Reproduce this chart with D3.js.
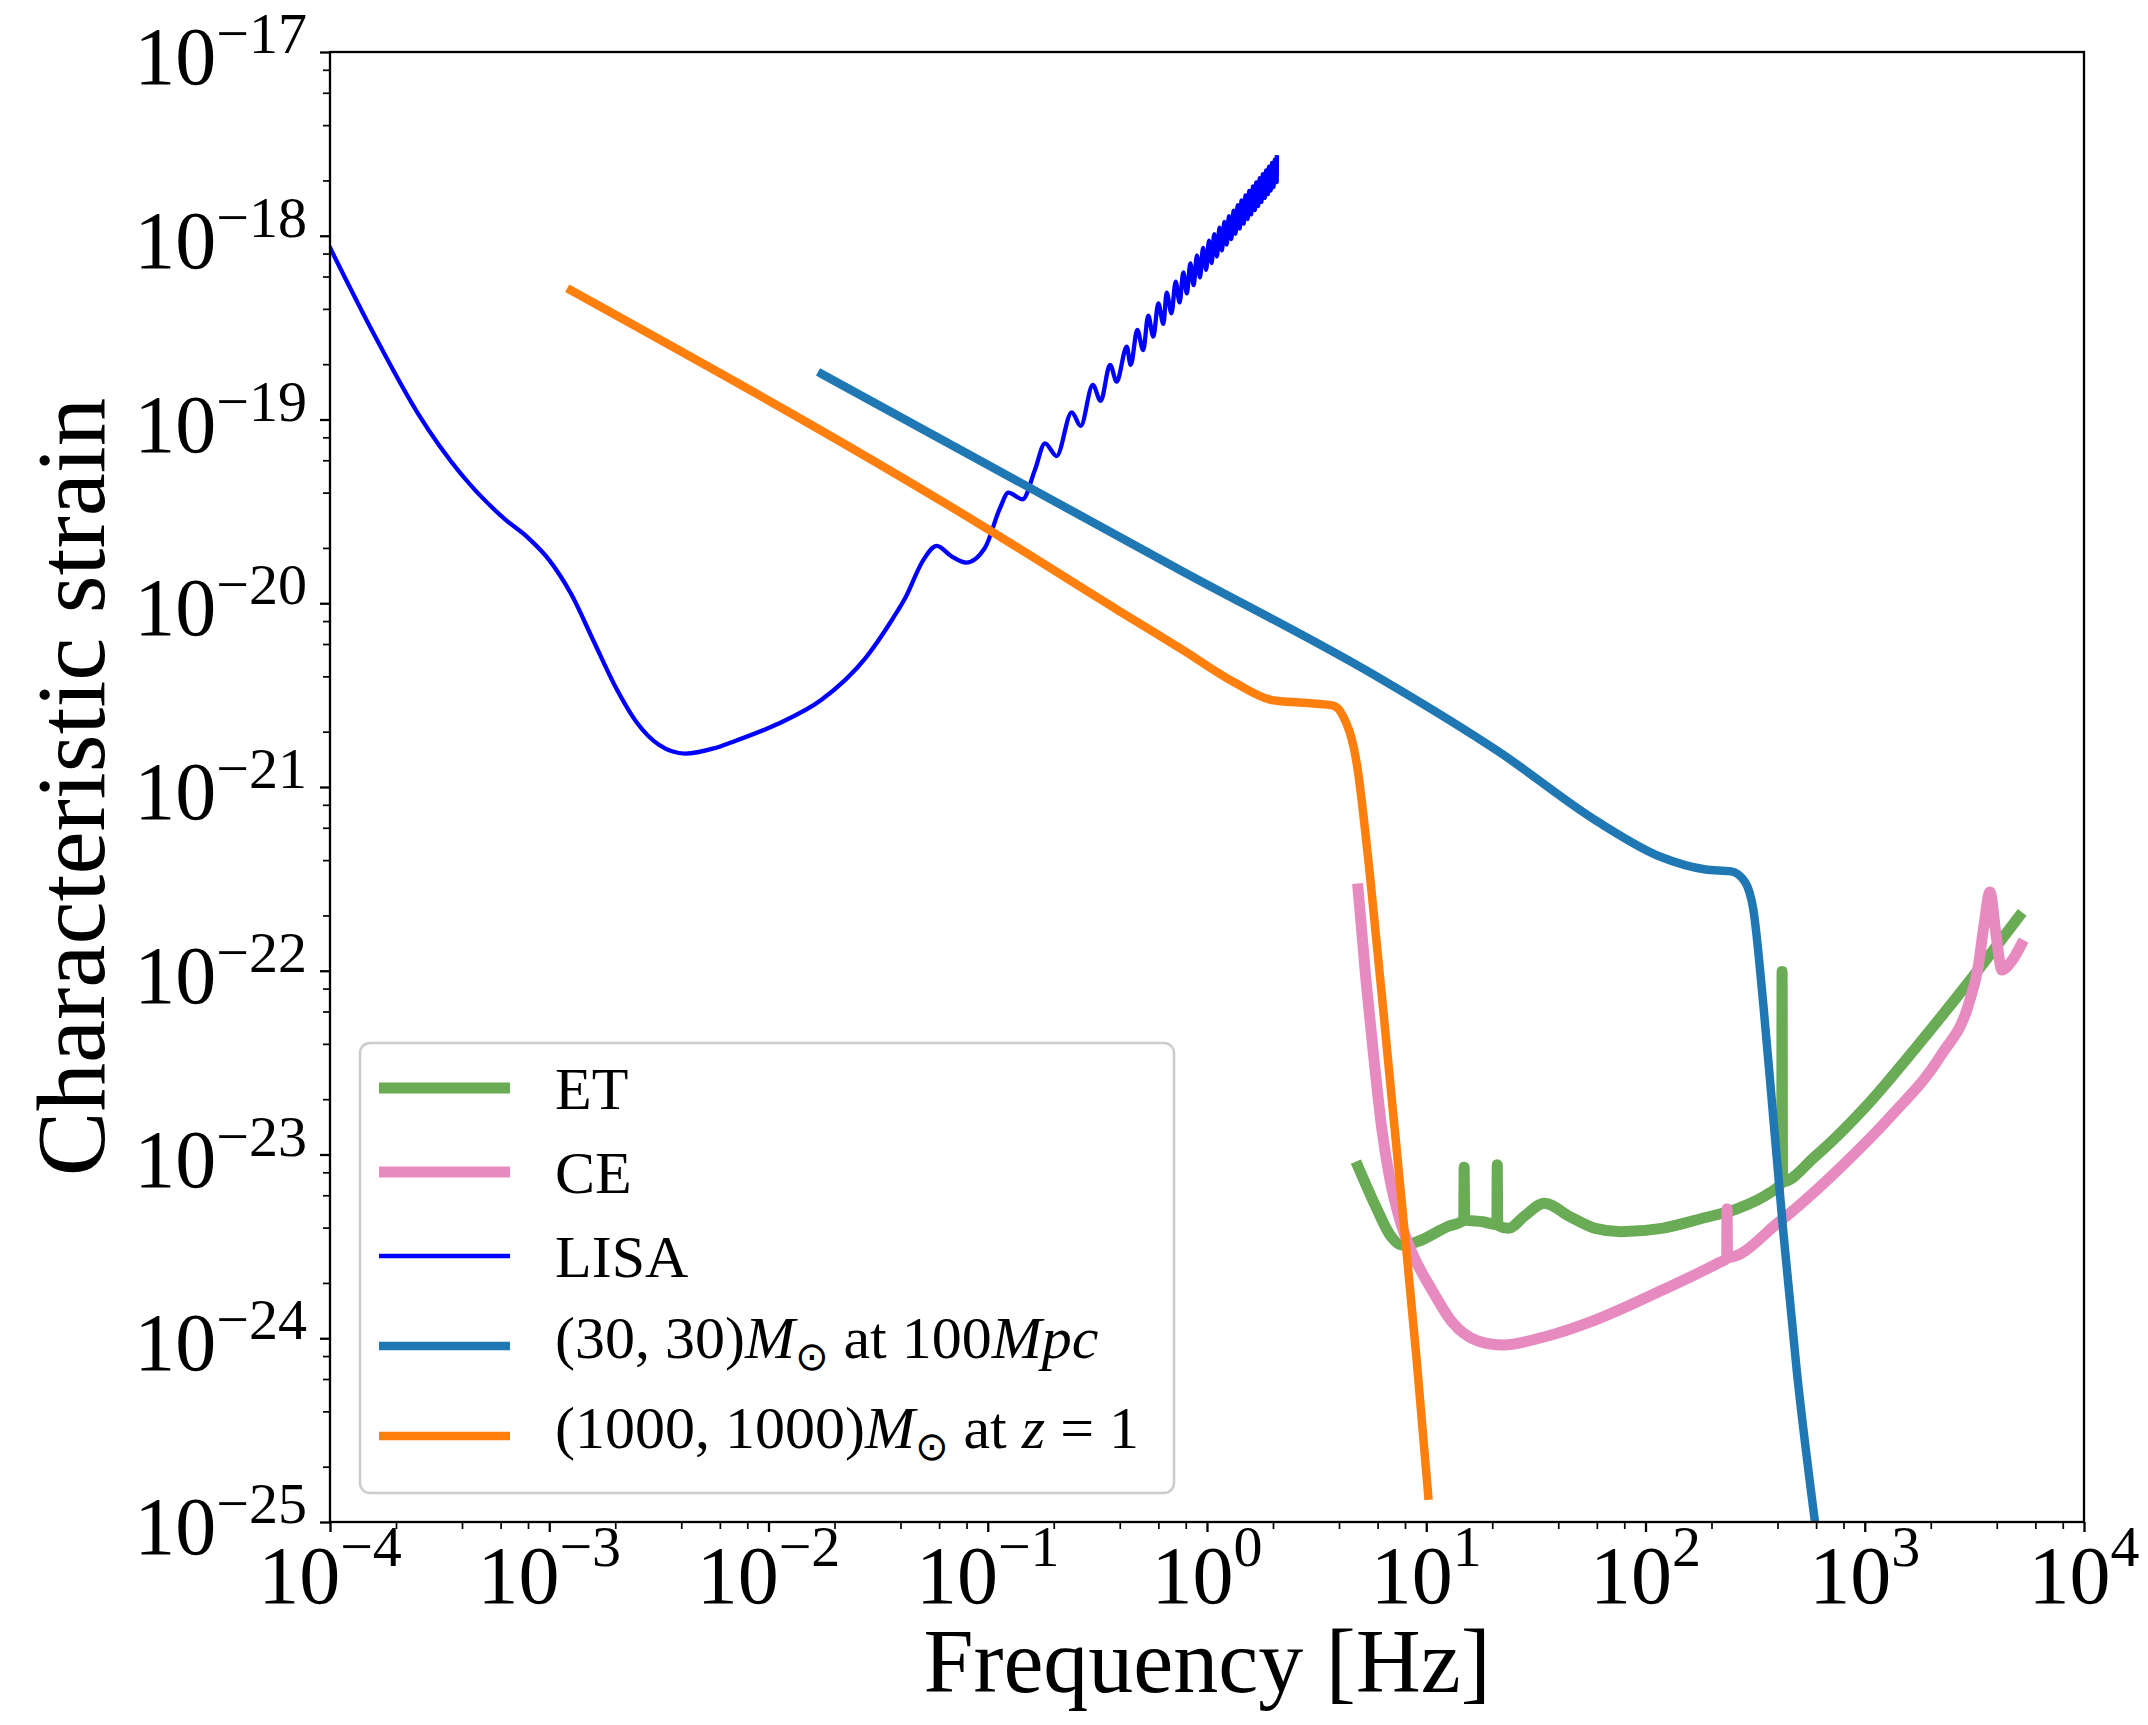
<!DOCTYPE html>
<html>
<head>
<meta charset="utf-8">
<script src="https://cdn.jsdelivr.net/npm/d3@7"></script>
<style>
body { margin: 0; background: #fff; }
text { font-family: "Liberation Serif", "DejaVu Serif", serif; fill: #000; }
</style>
</head>
<body>
<div id="chart"></div>
<script>
const w = 2148;
const h = 1725;

const margin = {
    left: 330,
    right: 64,
    top: 52,
    bottom: 203
};

const width = w - margin.left - margin.right;
const height = h - margin.top - margin.bottom;

// all curves are [log10 frequency (Hz), log10 characteristic strain]
const etCurve = [
    [0.689, -23.066], [0.770, -23.284], [0.840, -23.447], [0.887, -23.492], [0.957, -23.475],
    [1.096, -23.393], [1.171, -23.358], [1.173, -23.069], [1.175, -23.356], [1.259, -23.366],
    [1.322, -23.382], [1.324, -23.056], [1.326, -23.386], [1.376, -23.402], [1.445, -23.338],
    [1.539, -23.265], [1.655, -23.338], [1.771, -23.402], [1.887, -23.420], [2.074, -23.402],
    [2.260, -23.347], [2.423, -23.293], [2.563, -23.211], [2.621, -23.155], [2.623, -22.004],
    [2.625, -23.148], [2.772, -23.012], [3.004, -22.740], [3.237, -22.413], [3.470, -22.068],
    [3.703, -21.706]
];

const ceCurve = [
    [0.689, -21.555], [0.725, -22.050], [0.762, -22.486], [0.798, -22.867], [0.835, -23.139],
    [0.880, -23.357], [0.940, -23.547], [1.026, -23.737], [1.118, -23.912], [1.236, -24.015],
    [1.350, -24.037], [1.537, -23.993], [1.770, -23.901], [2.048, -23.754], [2.331, -23.591],
    [2.370, -23.566], [2.372, -23.297], [2.374, -23.561], [2.609, -23.367], [2.887, -23.073],
    [3.120, -22.790], [3.352, -22.453], [3.471, -22.192], [3.517, -21.980], [3.544, -21.751],
    [3.571, -21.571], [3.599, -21.806], [3.626, -21.996], [3.667, -21.952], [3.713, -21.860]
];

const lisaCurve = [
    [-4.000, -18.065], [-3.800, -18.535], [-3.600, -18.965], [-3.400, -19.300], [-3.200, -19.545],
    [-3.100, -19.640], [-3.000, -19.765], [-2.900, -19.950], [-2.800, -20.200], [-2.700, -20.450],
    [-2.600, -20.650], [-2.500, -20.770], [-2.380, -20.818], [-2.250, -20.790], [-2.167, -20.756],
    [-1.964, -20.660], [-1.760, -20.527], [-1.557, -20.297], [-1.435, -20.087],
    [-1.377, -19.973], [-1.294, -19.765], [-1.233, -19.688], [-1.165, -19.745], [-1.099, -19.779],
    [-1.013, -19.699], [-0.944, -19.482], [-0.906, -19.398], [-0.841, -19.434], [-0.785, -19.275],
    [-0.739, -19.130], [-0.686, -19.199], [-0.617, -18.961], [-0.576, -19.035], [-0.521, -18.812],
    [-0.485, -18.898], [-0.442, -18.703], [-0.412, -18.794], [-0.366, -18.604], [-0.348, -18.703],
    [-0.318, -18.513], [-0.291, -18.622], [-0.268, -18.435], [-0.245, -18.549], [-0.222, -18.368],
    [-0.199, -18.480], [-0.184, -18.310], [-0.162, -18.422], [-0.143, -18.250], [-0.125, -18.363],
    [-0.108, -18.199], [-0.092, -18.314], [-0.076, -18.151], [-0.061, -18.269], [-0.046, -18.107],
    [-0.032, -18.226], [-0.018, -18.066], [-0.004, -18.186], [0.009, -18.027], [0.021, -18.149],
    [0.033, -17.991], [0.045, -18.113], [0.057, -17.956], [0.068, -18.080], [0.079, -17.924],
    [0.090, -18.048], [0.100, -17.893], [0.111, -18.018], [0.121, -17.863], [0.130, -17.989],
    [0.140, -17.834], [0.149, -17.961], [0.158, -17.807], [0.167, -17.934], [0.176, -17.781],
    [0.185, -17.909], [0.193, -17.756], [0.201, -17.884], [0.210, -17.732], [0.218, -17.860],
    [0.225, -17.709], [0.233, -17.838], [0.241, -17.687], [0.248, -17.816], [0.255, -17.665],
    [0.263, -17.794], [0.270, -17.644], [0.277, -17.774], [0.283, -17.624], [0.290, -17.754],
    [0.297, -17.604], [0.303, -17.735], [0.310, -17.585], [0.318, -17.708], [0.319, -17.573]
];

const bbh30Curve = [
    [-1.757, -18.752], [-0.111, -19.827], [0.762, -20.390], [1.343, -20.818], [1.780, -21.187],
    [2.071, -21.381], [2.274, -21.449], [2.390, -21.459], [2.454, -21.517], [2.492, -21.669],
    [2.537, -22.179], [2.583, -22.803], [2.629, -23.428], [2.690, -24.178], [2.773, -25.000]
];

const bbh1000Curve = [
    [-2.901, -18.297], [-1.043, -19.565], [-0.402, -20.041], [-0.111, -20.254], [0.122, -20.429],
    [0.296, -20.527], [0.442, -20.542], [0.572, -20.556], [0.616, -20.604], [0.683, -20.872],
    [0.744, -21.490], [0.820, -22.415], [0.895, -23.343], [0.956, -24.115], [1.009, -24.856]
];

const xTickExps = [-4, -3, -2, -1, 0, 1, 2, 3, 4];
const yTickExps = [-25, -24, -23, -22, -21, -20, -19, -18, -17];
const minorSubs = [2, 4, 6, 8];

const series = [
    {name: "ET", data: etCurve, color: "#6aab56", lw: 11},
    {name: "CE", data: ceCurve, color: "#e78abf", lw: 11},
    {name: "LISA", data: lisaCurve, color: "#0000ff", lw: 4.3},
    {name: "bbh30", data: bbh30Curve, color: "#1f77b4", lw: 8.5},
    {name: "bbh1000", data: bbh1000Curve, color: "#ff7f0e", lw: 8.5}
];

const svg = d3.select("#chart")
    .append("svg")
    .attr("width", w)
    .attr("height", h);

svg.append("rect").attr("width", w).attr("height", h).attr("fill", "#fff");

const g = svg.append("g")
    .attr("transform", "translate(" + margin.left + "," + margin.top + ")");

const x = d3.scaleLog().domain([1e-4, 1e4]).range([0, width]);
const y = d3.scaleLog().domain([1e-25, 1e-17]).range([height, 0]);

g.append("clipPath")
    .attr("id", "clip")
    .append("rect")
    .attr("width", width)
    .attr("height", height);

const line = d3.line()
    .x(d => x(Math.pow(10, d[0])))
    .y(d => y(Math.pow(10, d[1])))
    .curve(d3.curveMonotoneX);

g.append("g")
    .attr("clip-path", "url(#clip)")
    .selectAll("path")
    .data(series)
    .enter()
    .append("path")
    .attr("d", d => line(d.data))
    .attr("fill", "none")
    .attr("stroke", d => d.color)
    .attr("stroke-width", d => d.lw)
    .attr("stroke-linejoin", "round")
    .attr("stroke-linecap", "square");

// ticks
const xMajor = xTickExps.map(e => Math.pow(10, e));
const yMajor = yTickExps.map(e => Math.pow(10, e));
let xMinor = [];
xTickExps.slice(0, -1).forEach(e => minorSubs.forEach(s => xMinor.push(s * Math.pow(10, e))));
let yMinor = [];
yTickExps.slice(0, -1).forEach(e => minorSubs.forEach(s => yMinor.push(s * Math.pow(10, e))));

function styleAxis(sel, sw) {
    sel.select(".domain").remove();
    sel.selectAll("line").attr("stroke", "#000").attr("stroke-width", sw);
    sel.selectAll("text").remove();
}

g.append("g").attr("transform", "translate(0," + height + ")")
    .call(d3.axisBottom(x).tickValues(xMinor).tickSize(7).tickFormat(""))
    .call(s => styleAxis(s, 1.7));
g.append("g").attr("transform", "translate(0," + height + ")")
    .call(d3.axisBottom(x).tickValues(xMajor).tickSize(10).tickFormat(""))
    .call(s => styleAxis(s, 2.3));
g.append("g")
    .call(d3.axisLeft(y).tickValues(yMinor).tickSize(7).tickFormat(""))
    .call(s => styleAxis(s, 1.7));
g.append("g")
    .call(d3.axisLeft(y).tickValues(yMajor).tickSize(10).tickFormat(""))
    .call(s => styleAxis(s, 2.3));

// frame
g.append("rect")
    .attr("width", width)
    .attr("height", height)
    .attr("fill", "none")
    .attr("stroke", "#000")
    .attr("stroke-width", 2.3);

// tick labels, 10^n
const baseSize = 82, supSize = 58;

const xLabels = g.append("g").selectAll("text")
    .data(xTickExps)
    .enter()
    .append("text")
    .attr("x", d => x(Math.pow(10, d)))
    .attr("y", height + 81)
    .attr("text-anchor", "middle")
    .attr("font-size", baseSize);
xLabels.append("tspan").text("10");
xLabels.append("tspan").attr("dy", -37).attr("font-size", supSize)
    .text(d => (d < 0 ? "\u2212" : "") + Math.abs(d));

const yLabels = g.append("g").selectAll("text")
    .data(yTickExps)
    .enter()
    .append("text")
    .attr("x", -23)
    .attr("y", d => y(Math.pow(10, d)) + 32)
    .attr("text-anchor", "end")
    .attr("font-size", baseSize);
yLabels.append("tspan").text("10");
yLabels.append("tspan").attr("dy", -31).attr("font-size", supSize)
    .text(d => "\u2212" + Math.abs(d));

// axis titles
svg.append("text")
    .attr("x", margin.left + width / 2)
    .attr("y", 1692)
    .attr("text-anchor", "middle")
    .attr("font-size", 90)
    .text("Frequency [Hz]");

svg.append("text")
    .attr("transform", "translate(104," + (margin.top + height / 2) + ") rotate(-90)")
    .attr("text-anchor", "middle")
    .attr("font-size", 97)
    .text("Characteristic strain");

// legend
const legend = svg.append("g");
legend.append("rect")
    .attr("x", 360).attr("y", 1043)
    .attr("width", 814).attr("height", 450)
    .attr("rx", 10)
    .attr("fill", "#fff").attr("fill-opacity", 0.8)
    .attr("stroke", "#cccccc").attr("stroke-width", 2.5);

const legendY = [1088, 1172, 1256, 1346, 1436];
const legendBase = [21, 21, 21, 12, 12];

series.forEach((s, i) => {
    legend.append("line")
        .attr("x1", 379).attr("x2", 510)
        .attr("y1", legendY[i]).attr("y2", legendY[i])
        .attr("stroke", s.color)
        .attr("stroke-width", s.lw);
});

const legendFont = 60;
function legendText(i) {
    return legend.append("text")
        .attr("x", 555)
        .attr("y", legendY[i] + legendBase[i])
        .attr("font-size", legendFont);
}
legendText(0).text("ET");
legendText(1).text("CE");
legendText(2).text("LISA");

const t4 = legendText(3);
t4.append("tspan").text("(30, 30)");
t4.append("tspan").attr("font-style", "italic").text("M");
t4.append("tspan").attr("dy", 12).attr("font-size", 40).attr("font-family", "DejaVu Sans").text("\u2299");
t4.append("tspan").attr("dy", -12).text(" at 100");
t4.append("tspan").attr("font-style", "italic").text("Mpc");

const t5 = legendText(4);
t5.append("tspan").text("(1000, 1000)");
t5.append("tspan").attr("font-style", "italic").text("M");
t5.append("tspan").attr("dy", 12).attr("font-size", 40).attr("font-family", "DejaVu Sans").text("\u2299");
t5.append("tspan").attr("dy", -12).text(" at ");
t5.append("tspan").attr("font-style", "italic").text("z");
t5.append("tspan").text(" = 1");
</script>
</body>
</html>
